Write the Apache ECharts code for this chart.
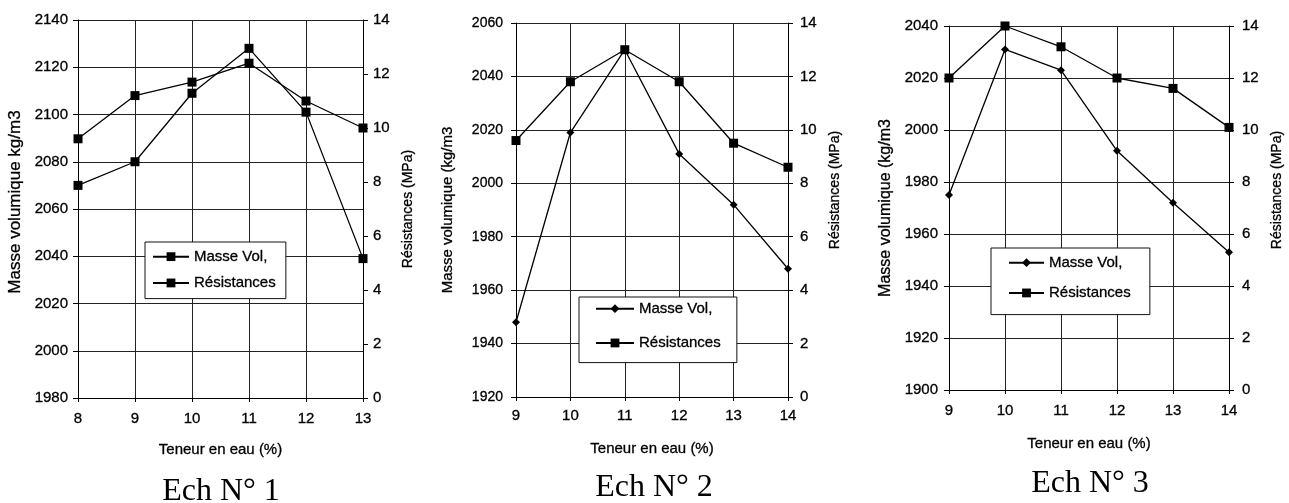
<!DOCTYPE html>
<html>
<head>
<meta charset="utf-8">
<script src="https://cdn.jsdelivr.net/npm/echarts@6/dist/echarts.min.js"></script>
<style>
  html, body { margin: 0; padding: 0; background: #fff; }
  #wrap { position: relative; width: 1289px; height: 503px; overflow: hidden; }
  .c { position: absolute; top: 0; height: 503px; }
</style>
</head>
<body>
<div id="wrap">
  <div id="c1" class="c" style="left:0;width:430px;"></div>
  <div id="c2" class="c" style="left:430px;width:440px;"></div>
  <div id="c3" class="c" style="left:870px;width:419px;"></div>
</div>
<script>
// ---- Data ----
const xLabels1 = ['8', '9', '10', '11', '12', '13'];
const masse1 = [2070, 2080, 2109, 2128, 2101, 2039];
const resist1 = [9.6, 11.2, 11.7, 12.4, 11.0, 10.0];

const xLabels2 = ['9', '10', '11', '12', '13', '14'];
const masse2 = [1948, 2019, 2050, 2011, 1992, 1968];
const resist2 = [9.6, 11.8, 13.0, 11.8, 9.5, 8.6];

const xLabels3 = ['9', '10', '11', '12', '13', '14'];
const masse3 = [1975, 2031, 2023, 1992, 1972, 1953];
const resist3 = [12.0, 14.0, 13.2, 12.0, 11.6, 10.1];

const seriesNames = ['Masse Vol,', 'Résistances'];
const xTitle = 'Teneur en eau (%)';
const rightTitle = 'Résistances (MPa)';
const leftTitles = ['Masse volumique kg/m3', 'Masse volumique (kg/m3', 'Masse volumique (kg/m3'];
const captions = ['Ech N° 1', 'Ech N° 2', 'Ech N° 3'];
const leftRanges = [[1980, 2140], [1920, 2060], [1900, 2040]];
const rightRange = [0, 14];

// ---- Builder ----
const FONT = "'Liberation Sans', Arial, sans-serif";
const SERIF = "'Liberation Serif', 'Times New Roman', serif";
const plain = function (v) { return String(v); };
const heavy = { textBorderColor: '#000', textBorderWidth: 0.3 };
function build(el, p) {
  const chart = echarts.init(document.getElementById(el));
  const lineStyle = { color: '#000', width: 1.3 };
  chart.setOption({
    animation: false,
    backgroundColor: '#fff',
    title: {
      text: p.caption, left: p.capX, top: p.capY, textAlign: 'center', padding: 0,
      textStyle: { fontFamily: SERIF, fontSize: 32, fontWeight: 'normal', color: '#000' }
    },
    legend: {
      data: seriesNames,
      orient: 'vertical',
      left: p.legLeft, top: p.legTop,
      padding: p.legPad,
      itemGap: p.legGap,
      itemWidth: p.legIconW,
      itemHeight: 11,
      backgroundColor: '#fff',
      borderColor: '#111', borderWidth: 1, borderRadius: 0,
      textStyle: Object.assign({ fontFamily: FONT, fontSize: 15, color: '#000' }, heavy),
      selectedMode: false
    },
    grid: { left: p.gl, top: p.gt, width: p.gw, height: p.gh, containLabel: false, outerBoundsMode: 'none' },
    xAxis: {
      type: 'category', data: p.x, boundaryGap: false,
      name: xTitle, nameLocation: 'middle', nameGap: p.xNameGap,
      nameTextStyle: Object.assign({ fontFamily: FONT, fontSize: 15, color: '#000' }, heavy),
      axisLine: { lineStyle: { color: '#000', width: 1 } },
      axisTick: { show: true, length: 4, lineStyle: { color: '#000' } },
      axisLabel: Object.assign({ interval: 0, margin: p.xMargin, fontFamily: FONT, fontSize: 15, color: '#000' }, heavy),
      splitLine: { show: true, lineStyle: { color: '#222', width: 1 } }
    },
    yAxis: [
      {
        type: 'value', min: p.left[0], max: p.left[1], interval: 20, position: 'left',
        name: p.leftTitle, nameLocation: 'middle', nameGap: p.lNameGap,
        nameTextStyle: Object.assign({ fontFamily: FONT, fontSize: p.lNameSize, color: '#000', padding: p.lNamePad }, heavy),
        axisLine: { show: true, lineStyle: { color: '#000', width: 1 } },
        axisTick: { show: true, length: 5, lineStyle: { color: '#000' } },
        axisLabel: Object.assign({ margin: p.lMargin, fontFamily: FONT, fontSize: p.lLabSize, color: '#000', formatter: plain }, heavy),
        splitLine: { show: true, lineStyle: { color: '#222', width: 1 } }
      },
      {
        type: 'value', min: rightRange[0], max: rightRange[1], interval: 2, position: 'right',
        name: rightTitle, nameLocation: 'middle', nameGap: p.rNameGap,
        nameTextStyle: Object.assign({ fontFamily: FONT, fontSize: 14, color: '#000', padding: p.rNamePad }, heavy),
        axisLine: { show: true, lineStyle: { color: '#000', width: 1 } },
        axisTick: { show: true, length: 5, lineStyle: { color: '#000' } },
        axisLabel: Object.assign({ margin: p.rMargin, fontFamily: FONT, fontSize: 15, color: '#000', formatter: plain }, heavy),
        splitLine: { show: false }
      }
    ],
    series: [
      {
        name: seriesNames[0], type: 'line', yAxisIndex: 0, data: p.masse,
        symbol: p.masseSymbol, symbolSize: p.masseSymbolSize,
        lineStyle: lineStyle, itemStyle: { color: '#000' }
      },
      {
        name: seriesNames[1], type: 'line', yAxisIndex: 1, data: p.resist,
        symbol: 'rect', symbolSize: p.resSymbolSize,
        lineStyle: lineStyle, itemStyle: { color: '#000' }
      }
    ]
  });
}

build('c1', {
  x: xLabels1, masse: masse1, resist: resist1, left: leftRanges[0], leftTitle: leftTitles[0], caption: captions[0],
  gl: 78, gt: 20, gw: 285, gh: 378,
  xNameGap: 44, xMargin: 13,
  lNameGap: 52, lNameSize: 17, lNamePad: [0, 0, 0, 14], lMargin: 10, lLabSize: 15,
  rNameGap: 34, rNamePad: [0, 0, 0, 0], rMargin: 10,
  masseSymbol: 'rect', masseSymbolSize: 9, resSymbolSize: 9,
  legLeft: 145, legTop: 242, legPad: [7, 10, 8, 7], legGap: 11, legIconW: 36,
  capX: 221, capY: 476
});
build('c2', {
  x: xLabels2, masse: masse2, resist: resist2, left: leftRanges[1], leftTitle: leftTitles[1], caption: captions[1],
  gl: 86, gt: 23, gw: 272, gh: 374,
  xNameGap: 44, xMargin: 11,
  lNameGap: 61, lNameSize: 15, lNamePad: [0, 0, 0, 0], lMargin: 13, lLabSize: 14,
  rNameGap: 35, rNamePad: [0, 0, 0, 40], rMargin: 12,
  masseSymbol: 'diamond', masseSymbolSize: 8, resSymbolSize: 9,
  legLeft: 149, legTop: 297, legPad: [4, 16, 12, 16], legGap: 19, legIconW: 38,
  capX: 224, capY: 472
});
build('c3', {
  x: xLabels3, masse: masse3, resist: resist3, left: leftRanges[2], leftTitle: leftTitles[2], caption: captions[2],
  gl: 79, gt: 26, gw: 280, gh: 364,
  xNameGap: 46, xMargin: 13,
  lNameGap: 54, lNameSize: 16, lNamePad: [0, 0, 0, 0], lMargin: 11, lLabSize: 15,
  rNameGap: 37, rNamePad: [0, 0, 0, 36], rMargin: 13,
  masseSymbol: 'diamond', masseSymbolSize: 8, resSymbolSize: 9,
  legLeft: 121, legTop: 248, legPad: [7, 19, 14, 17], legGap: 15, legIconW: 35,
  capX: 220, capY: 468
});
</script>
</body>
</html>
